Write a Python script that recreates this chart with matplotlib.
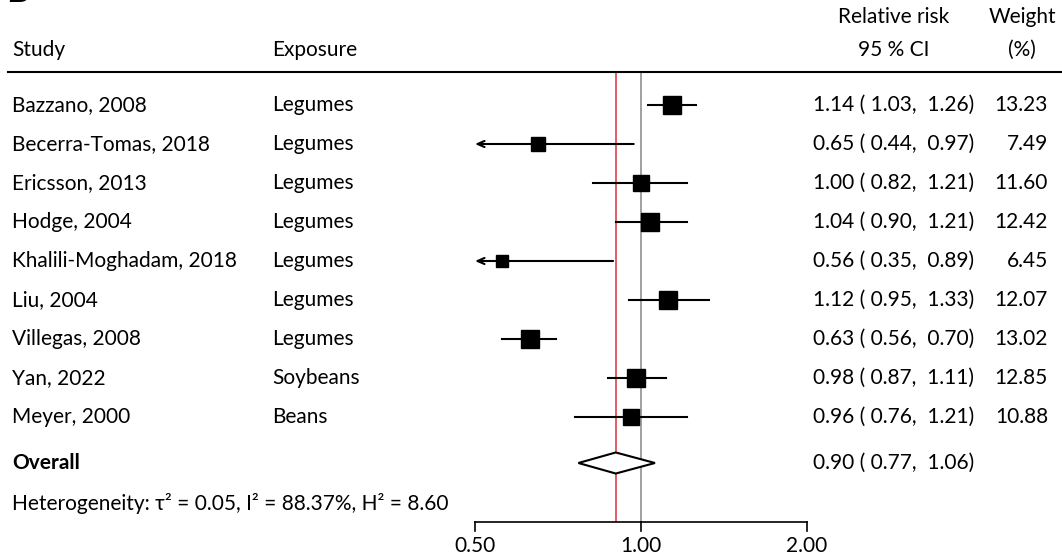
import matplotlib.pyplot as plt
import numpy as np

plt.rcParams['font.family'] = ['Lato', 'DejaVu Sans']

# data
studies = ["Bazzano, 2008", "Becerra-Tomas, 2018", "Ericsson, 2013", "Hodge, 2004",
           "Khalili-Moghadam, 2018", "Liu, 2004", "Villegas, 2008", "Yan, 2022", "Meyer, 2000"]
exposure = ["Legumes", "Legumes", "Legumes", "Legumes", "Legumes", "Legumes", "Legumes",
            "Soybeans", "Beans"]
rr = [1.14, 0.65, 1.00, 1.04, 0.56, 1.12, 0.63, 0.98, 0.96]
lo = [1.03, 0.44, 0.82, 0.90, 0.35, 0.95, 0.56, 0.87, 0.76]
hi = [1.26, 0.97, 1.21, 1.21, 0.89, 1.33, 0.70, 1.11, 1.21]
weight = [13.23, 7.49, 11.60, 12.42, 6.45, 12.07, 13.02, 12.85, 10.88]
overall_rr, overall_lo, overall_hi = 0.90, 0.77, 1.06
het_text = "Heterogeneity: τ² = 0.05, I² = 88.37%, H² = 8.60"
tick_vals = [0.5, 1.0, 2.0]

fs = 15
W, H = 1062, 554
fig = plt.figure(figsize=(W / 100, H / 100), dpi=100)
ax = fig.add_axes([0, 0, 1, 1])
ax.set_xscale('log', base=2)
# pixel layout: x = 641 + 166*log2(v), y = 105 + 39*row
ax.set_xlim(2 ** (-641 / 166), 2 ** ((W - 641) / 166))
ax.set_ylim((H - 105) / 39, -105 / 39)
ax.axis('off')

def row(p):
    return (p - 105) / 39

tx = ax.get_yaxis_transform()  # x in axes fraction, y in data

n = len(studies)
y_over = row(463)
y_het = row(503)
y_axis = row(522)
y_top = row(72)

# header
ax.text(12 / W, row(50), "Study", transform=tx, fontsize=fs, va='center')
ax.text(272 / W, row(50), "Exposure", transform=tx, fontsize=fs, va='center')
ax.text(894 / W, row(17), "Relative risk", transform=tx, fontsize=fs, va='center', ha='center')
ax.text(894 / W, row(50), "95 % CI", transform=tx, fontsize=fs, va='center', ha='center')
ax.text(1022 / W, row(17), "Weight", transform=tx, fontsize=fs, va='center', ha='center')
ax.text(1022 / W, row(50), "(%)", transform=tx, fontsize=fs, va='center', ha='center')
ax.plot([8 / W, 1], [y_top, y_top], transform=tx, color='black', lw=1.5, clip_on=False)
ax.text(6 / W, row(2.5), "B", transform=tx, fontsize=26, fontweight='bold', va='baseline')

# reference lines
ax.vlines(1.0, y_top, y_axis, color='#999999', lw=1.3, zorder=1)
ax.vlines(overall_rr, y_top, y_axis, color='#e0505a', lw=1.3, zorder=1)

xmin = tick_vals[0]
for i in range(n):
    ax.text(12 / W, i, studies[i], transform=tx, fontsize=fs, va='center')
    ax.text(272 / W, i, exposure[i], transform=tx, fontsize=fs, va='center')
    ax.text(974 / W, i, "%.2f (%5.2f, %5.2f)" % (rr[i], lo[i], hi[i]), transform=tx,
            fontsize=fs, va='center', ha='right')
    ax.text(1048 / W, i, "%.2f" % weight[i], transform=tx, fontsize=fs, va='center', ha='right')
    if lo[i] < xmin:
        ax.annotate('', xy=(xmin, i), xytext=(hi[i], i),
                    arrowprops=dict(arrowstyle='->,head_length=0.5,head_width=0.22',
                                    lw=1.5, color='black', shrinkA=0, shrinkB=0), zorder=2)
    else:
        ax.plot([lo[i], hi[i]], [i, i], color='black', lw=1.5, zorder=2)
    side = 4.9 * np.sqrt(weight[i]) * 0.72
    ax.plot(rr[i], i, marker='s', ms=side, color='black', mec='black', zorder=3)

# overall diamond
h = 0.27
ax.fill([overall_lo, overall_rr, overall_hi, overall_rr],
        [y_over, y_over - h, y_over, y_over + h],
        facecolor='white', edgecolor='black', lw=1.5, zorder=3)
ax.text(12 / W, y_over, "Overall", transform=tx, fontsize=fs, fontweight='bold', va='center')
ax.text(974 / W, y_over, "%.2f (%5.2f, %5.2f)" % (overall_rr, overall_lo, overall_hi),
        transform=tx, fontsize=fs, va='center', ha='right')
ax.text(12 / W, y_het, het_text, transform=tx, fontsize=fs, va='center')

# x axis
ax.plot([tick_vals[0], tick_vals[-1]], [y_axis, y_axis], color='black', lw=1.2)
for t in tick_vals:
    ax.plot([t, t], [y_axis, row(531)], color='black', lw=1.2)
    ax.text(t, row(546), "%.2f" % t, fontsize=fs, ha='center', va='center')

fig.savefig('out.png', dpi=100)
